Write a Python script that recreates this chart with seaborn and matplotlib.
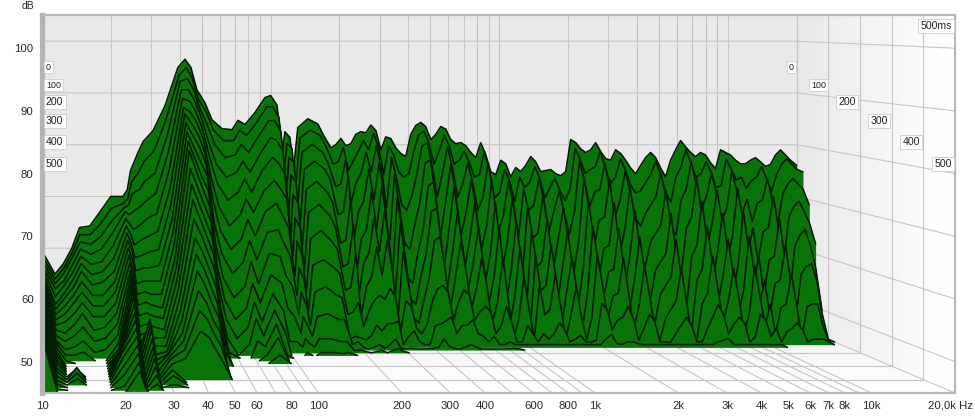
import numpy as np
import matplotlib
matplotlib.use("Agg")
import matplotlib.pyplot as plt
import seaborn as sns

# frequency grid (Hz) shared by all slices
freqs_hz = [10, 10.3, 11.4, 12.4, 13.5, 14.6, 16.2, 17.9, 20, 22.6, 23.6, 24.4, 26.3, 27.7, 30.6, 34.5, 39.3, 42.2, 44.8, 47.6,
            51.6, 55.4, 61.3, 67.8, 72, 77.3, 85.4, 94.5, 100, 106.5, 113, 115.5, 121.5, 126, 131.5, 145.5, 161, 170,
            183.5, 193, 203, 213.5, 224.5, 236, 248, 261, 274.5, 289, 303.5, 319, 335.5, 353, 371, 390, 410.5, 431.5, 454,
            477, 502, 528, 555, 584, 614, 645.5, 679, 714, 751, 790, 830.5, 873.5, 918.5, 966, 1016, 1068, 1123, 1181, 1242,
            1306, 1374, 1445, 1519, 1597, 1680, 1767, 1858, 1954, 2055, 2161, 2272, 2389, 2513, 2642, 2779, 2922, 3073, 3232,
            3398, 3574, 3758, 3952, 4156, 4370, 4596, 4833, 5082, 5344, 5620, 5910, 6215, 6535, 6873, 7227, 7600, 7992, 8405,
            8838, 9294, 9774, 10278, 10808, 11366, 11952, 12568, 13217, 13899, 14616, 15370, 16163, 16997, 17874, 18796, 20000]

# level (dB) of each waterfall slice. rows stop where the slice has sunk to the floor
slice_000 = [58, 58.5, 55, 57, 60, 64, 64.3, 67, 70, 70, 71.3, 75, 78.5, 80.6, 82.7, 87.5, 94.9, 96.5, 94.9, 90.6,
             88.1, 84.8, 83.1, 82.9, 84.7, 83.9, 86.2, 89.1, 89.5, 87.7, 79, 82.5, 81.4, 75.2, 83.3, 85, 84, 81.9,
             79.4, 80, 81.2, 79.8, 80.2, 82, 82.5, 82.3, 83.8, 82.7, 79, 81.5, 81.2, 79.4, 78.3, 77.7, 82, 83.7, 84.3, 83.5,
             81, 82, 83.5, 83, 81, 80.2, 80.4, 79.8, 78.5, 77.5, 80.4, 78, 74.8, 74.2, 77, 76.3, 73.8, 75.6, 74.8, 76, 77.7,
             76.7, 74.8, 75, 75.2, 74.4, 74, 74.8, 81, 80.4, 79.2, 78.5, 79, 80.4, 78.7, 77.3, 77, 79, 78.3, 77, 75.5, 74.4,
             76, 77.5, 78.5, 77.5, 75.5, 73.8, 77, 79, 80.8, 79.6, 78.5, 77.7, 78.5, 78, 76.5, 75.4, 79, 78.5, 78, 77, 76.3,
             76.3, 77, 77.5, 76.7, 75.8, 76.2, 78, 79, 78, 77, 76]
slice_020 = [57.8, 58, 54.5, 56.5, 59.5, 63, 63, 65, 68, 69, 70, 73, 75, 77, 79, 85, 93.5, 95, 93, 89,
             86.5, 83, 81, 81, 83, 82, 84.5, 87.5, 87.5, 85.5, 76, 80.5, 79.5, 72, 81.5, 83, 82, 80,
             76.5, 77, 79.7, 75.3, 77.2, 79, 81, 79.3, 82.3, 79.7, 74.5, 80, 78.2, 75, 74, 74.7, 79, 82.2, 82.8, 80.5, 76.5,
             79, 82, 80, 76.5, 77.2, 79, 76.8, 74, 74.5, 79, 75, 70, 71, 75.5, 73.3, 69.3, 74, 72, 73, 76, 73.7, 70, 72, 73.7,
             71.4, 69.5, 71.8, 79.5, 77.4, 74.7, 75.5, 76, 79, 75.7, 72.8, 74, 77.5, 75.3, 72.5, 71, 71.4, 73, 74.5, 77, 74.5,
             71, 69.3, 74, 76, 79.3, 76.6, 74, 74.7, 77, 75, 72, 72.4, 77.5, 75.5, 73.5, 74, 71.8, 73.3, 74, 76, 73.7, 71.3,
             74.5, 76.5, 77.5, 76.5, 75.5, 75]
slice_040 = [57.3, 57.5, 54, 56, 59, 62, 61.5, 63, 66, 68.5, 69, 71, 72, 73.5, 75, 82, 92.5, 93, 91, 87.5,
             84, 80.5, 78, 78.5, 80.5, 79, 82, 85, 85, 83, 72, 78, 77, 69, 79, 80.5, 79, 77,
             72.5, 73, 77.7, 69.3, 73.2, 75, 79, 75.3, 80.3, 75.7, 68.5, 78, 74, 69, 68, 70.7, 75, 80.2, 80.8, 76.5, 70.5,
             75, 80, 76, 70.5, 73, 77, 73, 68, 70.5, 77, 71, 64, 67, 73.5, 69, 63, 72, 68, 69, 74, 69.7, 64, 68, 71.7, 67.4,
             63.5, 67.8, 77.5, 73.4, 68.7, 71.5, 72, 77, 71.7, 66.8, 70, 75.5, 71.3, 66.5, 65, 67.4, 69, 70.5, 75, 70.5, 65,
             63.3, 70, 72, 77.3, 72.6, 68, 70.7, 75, 71, 66, 68.4, 75.5, 71.5, 67.5, 70, 65.8, 69.3, 70, 74, 69.7, 65.3,
             71, 73, 74, 73, 72, 69]
slice_060 = [57, 57, 53.5, 55, 58, 61, 60, 61, 64, 68, 67.5, 68, 69, 70, 71.5, 79, 91, 91, 89, 86,
             81, 77, 74.5, 75.5, 77.5, 75.5, 79, 82, 81.5, 79.5, 68, 75, 73.5, 65, 76, 77.5, 76, 74,
             67.5, 68, 74.7, 62.3, 68.2, 70, 76, 70.3, 77.3, 70.7, 61.5, 75, 69, 62, 61, 65.7, 70, 77.2, 77.8, 71.5, 63.5,
             70, 77, 71, 63.5, 68, 74, 68, 61, 65.5, 74, 66, 57, 62, 70.5, 64, 56, 69, 63, 64, 71, 64.7, 57, 63, 68.7, 62.4,
             56.5, 62.8, 74.5, 68.4, 61.7, 66.5, 67, 74, 66.7, 59.8, 65, 72.5, 66.3, 59.5, 58, 62.4, 64, 65.5, 72, 65.5, 58,
             56.3, 65, 67, 74.3, 67.6, 61, 65.7, 72, 66, 59, 63.4, 72.5, 66.5, 60.5, 65, 58.8, 64.3, 65, 71, 64.7, 58.3,
             67, 69, 70, 68, 66, 62]
slice_080 = [56.8, 56.7, 52.5, 54.5, 57, 60, 58.5, 59, 62, 67, 66, 65, 66, 67, 68, 76, 89.5, 89, 87, 84,
             78, 73.5, 70.5, 72, 74.5, 72, 76, 78.5, 77.5, 75.5, 64, 71.5, 70, 61, 72.5, 74, 72, 70,
             62.5, 63, 70.7, 56.3, 63.2, 65, 72, 65.3, 73.3, 65.7, 55.5, 71, 64, 56, 55, 60.7, 65, 73.2, 73.8, 66.5, 57.5,
             65, 73, 66, 57.5, 63, 70, 63, 55, 60.5, 70, 61, 51, 57, 66.5, 59, 50, 65, 58, 59, 67, 59.7, 51, 58, 64.7, 57.4,
             50.5, 57.8, 70.5, 63.4, 55.7, 61.5, 62, 70, 61.7, 53.8, 60, 68.5, 61.3, 53.5, 52, 57.4, 59, 60.5, 68, 60.5, 52,
             50.3, 60, 62, 70.3, 62.6, 55, 60.7, 68, 61, 53, 58.4, 68.5, 61.5, 54.5, 60, 52.8, 59.3, 60, 67, 59.7, 52.3,
             62, 64, 65, 62, 58, 50]
slice_100 = [56.5, 56.3, 51.5, 53.5, 56, 59, 57, 57.5, 60, 66, 64.5, 62.5, 63.5, 64, 65, 73, 88, 87, 85, 82,
             74.5, 69.5, 66, 68, 71, 68.5, 72.5, 74.5, 73, 71, 60.5, 67.5, 65.5, 57, 68.5, 70, 68, 66,
             58.5, 59, 66.2, 52.8, 59.2, 61, 67.5, 61.3, 68.8, 61.7, 52, 66.5, 60, 52.5, 51.5, 56.7, 61, 68.7, 69.3, 62.5, 54,
             61, 68.5, 62, 54, 59, 65.5, 59, 51.5, 56.5, 65.5, 57, 47.5, 53, 62, 55, 47, 60.5, 54, 55, 62.5, 55.7, 47.5, 54,
             60.2, 53.4, 47, 53.8, 66, 59.4, 52.2, 57.5, 58, 65.5, 57.7, 50.3, 56, 64, 57.3, 50, 48.5, 53.4, 55, 56.5, 63.5,
             56.5, 48.5, 46.8, 56, 58, 65.8, 58.6, 51.5, 56.7, 63.5, 57, 49.5, 54.4, 64, 57.5, 51, 56, 49.3, 55.3, 56, 62.5,
             55.7, 48.8, 57, 58.5, 59, 56, 50, 45]
slice_120 = [56.3, 56, 51, 53, 55, 58, 55.5, 56, 58, 65, 63, 60.5, 61, 61.5, 62, 70.5, 87, 85, 83, 80,
             71, 65.5, 62, 64, 67.5, 64.5, 69, 70.5, 68.5, 66, 57, 63.5, 61, 54, 64, 65.5, 63.5, 62,
             54.5, 55, 61.2, 49.8, 55.2, 57, 62.5, 57.3, 63.8, 57.7, 49, 61.5, 56, 49.5, 48.5, 52.7, 57, 63.7, 64.3, 58.5, 51,
             57, 63.5, 58, 51, 55, 60.5, 55, 48.5, 52.5, 60.5, 53, 45.5, 49, 57, 51, 45.5, 55.5, 50, 51, 57.5, 51.7, 45.5, 50,
             55.2, 49.4, 45.5, 49.8, 61, 55.4, 49.2, 53.5, 54, 60.5, 53.7, 47.3, 52, 59, 53.3, 47, 45.5, 49.4, 51, 52.5, 58.5,
             52.5, 45.5, 45.5, 52, 54, 60.8, 54.6, 48.5, 52.7, 58.5, 53, 46.5, 50.4, 59, 53.5, 48, 52, 46.3, 51.3, 52, 57.5,
             51.7, 45.8, 51.5, 52, 52, 48, 45.5]
slice_140 = [56, 55.7, 50.5, 52, 54, 56.5, 54, 54, 56.5, 64, 62, 58.5, 59, 59, 59.5, 68, 85.5, 83, 81, 78,
             67, 61.5, 58, 60, 64, 60.5, 65.5, 66, 63.5, 61, 54, 59, 56.5, 51, 59.5, 60.5, 59, 58,
             50.5, 51, 52.7, 48.3, 51.2, 53, 54, 53.3, 55.3, 53.7, 47.5, 53, 52, 48, 47, 48.7, 53, 55.2, 55.8, 54.5, 49.5,
             53, 55, 54, 49.5, 51, 52, 51, 47, 48.5, 52, 49, 45.5, 45.5, 48.5, 47, 45.5, 47, 46, 47, 49, 47.7, 45.5, 46, 46.7,
             45.5, 45.5, 45.8, 52.5, 51.4, 47.7, 49.5, 50, 52, 49.7, 45.8, 48, 50.5, 49.3, 45.5, 45.5, 45.4, 47, 48.5, 50, 48.5,
             45.5, 45.5, 48, 50, 52.3, 50.6, 47, 48.7, 50, 49, 45.5, 46.4, 50.5, 49.5, 46.5, 48, 45.5, 47.3, 48, 49, 47.7, 45.5,
             46, 46, 46, 45.5]
slice_160 = [55.8, 55.5, 50, 51, 53, 55, 52.5, 52.5, 55, 63, 60.5, 56.5, 57, 57, 57, 66, 84, 81, 78.5, 76,
             63.5, 57.5, 54, 56, 60.5, 56.5, 62, 61.5, 58, 56, 51, 55, 52.5, 49, 55, 56, 54.5, 54,
             46.5, 47, 46.7, 46.3, 47.2, 49, 48, 49.3, 49.3, 49.7, 45.5, 47, 48, 46, 45.5, 45.5, 49, 49.2, 49.8, 50.5, 47.5, 49,
             49, 50, 47.5, 47, 46, 47, 45.5, 45.5, 46, 45.5, 45.5, 45.5, 45.5, 45.5, 45.5, 45.5, 45.5, 45.5, 45.5, 45.5, 45.5,
             45.5, 45.5, 45.5, 45.5, 45.5, 46.5, 47.4, 45.7, 45.5, 46, 46, 45.7, 45.5, 45.5, 45.5, 45.5, 45.5, 45.5, 45.5, 45.5,
             45.5, 45.5, 45.5, 45.5, 45.5, 45.5, 46, 46.3, 46.6, 45.5, 45.5, 45.5, 45.5, 45.5, 45.5, 45.5, 45.5, 45.5, 45.5]
slice_180 = [55.6, 55.2, 49.5, 50, 51.5, 53.5, 51, 51, 53.5, 62, 59, 55, 55.5, 55, 55, 64, 82.5, 79, 76, 73.5,
             60, 54, 50.5, 52.5, 57, 53.5, 58.5, 57, 52.5, 51, 48, 51, 49, 47.5, 51, 51.5, 50.5, 50.5,
             46, 46.5, 45.5, 45.2, 45.5, 46, 45.3, 46, 47, 45.3, 45.2, 45.3, 45.2, 45.2, 45.2, 45.3, 45.5, 47, 45.7, 45.3, 45.2,
             45.5, 46, 45.5, 45.2, 45.2, 45.2, 45.2, 45.2, 45.2, 45.3, 45.2]
slice_200 = [55.4, 55, 49, 48.5, 50, 52, 49, 49.5, 52, 61, 57.5, 53.5, 54, 53.5, 53, 62, 81, 77, 74, 71,
             57, 51, 47.5, 49.5, 54, 50.5, 55.5, 52.5, 47, 47, 46, 47.5, 46.5, 46, 47.5, 47.5, 47, 47,
             45.3, 45.5, 45.2, 45, 45.2, 45.4, 45, 45.4, 45.8, 45.2]
slice_220 = [55.2, 54.8, 48.5, 47.5, 48.5, 50, 47.5, 48, 50.5, 60, 56, 52, 52.5, 52, 51.5, 60.5, 78, 74.5, 71.5, 68.5,
             54, 48, 45, 47, 51.5, 48.5, 53, 49, 45, 45, 45, 45.5, 45, 45, 45.5, 45.5, 45.3, 45.5]
slice_240 = [55, 54.6, 48, 46.5, 47, 48, 46, 46.5, 49, 59.5, 54.5, 50.5, 51, 50.5, 50, 59, 75.5, 72, 69, 66,
             52, 46, 45, 45, 48, 47, 51, 45.5]
slice_260 = [55, 54.4, 48, 46, 46, 46.5, 45, 45, 48, 59, 53, 49.5, 50, 49, 49, 57.5, 73, 69.5, 66.5, 63.5,
             50.5, 45, 45, 45, 45, 46, 49]
slice_280 = [54.8, 54.2, 47.8, 45.5, 45, 45, 45, 45, 47.5, 58.5, 52, 48.5, 51.5, 48, 48, 56, 70, 67, 64, 61,
             49, 45, 45, 45, 45, 45, 46.5]
slice_300 = [54.8, 54, 47.5, 45, 45, 45, 45, 45, 47.5, 58, 51, 48, 53, 47, 47.5, 54.5, 67, 64.5, 61.5, 58.5, 47.5]
slice_320 = [54.6, 53.8, 47.3, 45, 45, 45, 45, 45, 48, 57.5, 50.5, 47.5, 52.5, 46.5, 47.5, 53, 64.5, 62, 59, 56]
slice_340 = [54.6, 53.6, 47, 45, 45, 45, 45, 45, 48.5, 56.5, 50, 47, 52, 46, 48, 51.5, 62, 59.5, 56.5, 54]
slice_360 = [54.4, 53.4, 46.8, 45, 45, 45, 45, 45, 49, 55.5, 49.5, 46.5, 51, 45.5, 48, 50.5, 59, 57, 54, 52]
slice_380 = [54.4, 53.2, 46.5, 45, 46.3, 45, 45, 45, 49.5, 54.5, 49, 46, 50, 45, 48, 49.5, 56, 54.5, 52, 50]
slice_400 = [54.2, 53, 46.3, 45, 47, 45, 45, 45, 49.5, 53.5, 48.5, 45.5, 49.5, 45, 47.5, 48.5, 53, 52, 50, 48]
slice_420 = [54.2, 52.8, 46, 45, 46.5, 45, 45, 45, 49, 52.5, 48, 45, 49, 45, 47]
slice_440 = [54, 52.6, 45.7, 45, 46, 45, 45, 45, 48, 51.5, 47.5, 45, 48, 45, 46.5]
slice_460 = [54, 52.4, 45.5, 45, 45, 45, 45, 45, 47, 50.5, 47, 45, 47, 45, 45.5]
slice_480 = [54, 52.2, 45.2, 45, 45, 45, 45, 45, 45.7, 49.5, 46.5, 45, 46]
slice_500 = [54, 52, 45, 45, 45, 45, 45, 45, 45, 48.5, 46]

slices = [slice_000, slice_020, slice_040, slice_060, slice_080, slice_100, slice_120, slice_140, slice_160,
          slice_180, slice_200, slice_220, slice_240, slice_260, slice_280, slice_300, slice_320, slice_340,
          slice_360, slice_380, slice_400, slice_420, slice_440, slice_460, slice_480, slice_500]
slice_ms = [0, 20, 40, 60, 80, 100, 120, 140, 160, 180, 200, 220, 240, 260, 280, 300, 320, 340, 360, 380, 400, 420, 440,
            460, 480, 500]

x_ticks = [10, 20, 30, 40, 50, 60, 80, 100, 200, 300, 400, 600, 800, 1000, 2000, 3000, 4000, 5000, 6000, 7000, 8000, 10000]
x_labels = ["10", "20", "30", "40", "50", "60", "80", "100", "200", "300", "400", "600", "800", "1k", "2k", "3k", "4k",
            "5k", "6k", "7k", "8k", "10k"]
wall_freqs = [20, 30, 40, 50, 60, 70, 80, 90, 100, 200, 300, 400, 500, 600, 700, 800, 900, 1000, 2000, 3000, 4000, 5000,
              6000, 7000, 8000, 9000, 10000, 20000]
y_ticks = [50, 60, 70, 80, 90, 100]
time_marks = [0, 100, 200, 300, 400, 500]

FLOOR = 45
TOP = 105.3
F_MIN, F_MAX = 10, 20000
GRID = "#c6c6c6"
GREEN = "#087408"
EDGE = "#011a01"

sns.set_style("white")
plt.rcParams["font.family"] = ["Liberation Sans", "DejaVu Sans"]


def project(f, ms, db):
    # depth view: the 500 ms plane is the axes itself, the 0 ms plane sits smaller and further up
    t = np.asarray(ms, dtype=float) / 500
    s = (228.7 + 48 * t) / 276.7
    x = 10 * (np.asarray(f, dtype=float) / 10) ** s
    y = 45 + (67 * (1 - t) + (5.17 + 1.09 * t) * (np.asarray(db, dtype=float) - 45)) / 6.26
    return x, y


fig = plt.figure(figsize=(9.75, 4.16), dpi=100)
ax = fig.add_axes([42 / 975, 1 - 393 / 416, 913 / 975, 378 / 416])
ax.set_xscale("log")
ax.set_xlim(F_MIN, F_MAX)
ax.set_ylim(FLOOR, TOP)
ax.set_facecolor("#e9e9e9")

# shaded side wall and floor
depth = np.linspace(0, 500, 40)
shade = np.linspace(0.91, 1.0, 39).reshape(-1, 1)
wx0, wy0 = project(F_MAX, depth, FLOOR)
wx1, wy1 = project(F_MAX, depth, TOP + 3)
ax.pcolormesh(np.column_stack([wx0, wx1]), np.column_stack([wy0, wy1]), shade, cmap="gray", vmin=0, vmax=1, zorder=1)
fx0, fy0 = project(F_MIN, depth, FLOOR)
fx1, fy1 = project(F_MAX, depth, FLOOR)
ax.pcolormesh(np.column_stack([fx0, fx1]), np.column_stack([fy0, fy1]), np.linspace(0.94, 1.0, 39).reshape(-1, 1),
              cmap="gray", vmin=0, vmax=1, zorder=1)

# wall and floor grid
for f in wall_freqs:
    x, y = project([f, f], [0, 0], [FLOOR, TOP + 3])
    ax.plot(x, y, color=GRID, lw=0.8, zorder=2)
    x, y = project([f, f], [0, 500], [FLOOR, FLOOR])
    ax.plot(x, y, color=GRID, lw=0.8, zorder=2)
for db in y_ticks:
    x, y = project([F_MIN, F_MAX, F_MAX], [0, 0, 500], [db, db, db])
    ax.plot(x, y, color=GRID, lw=0.8, zorder=2)
for ms in time_marks:
    x, y = project([F_MIN, F_MAX, F_MAX], [ms, ms, ms], [FLOOR, FLOOR, TOP + 3])
    ax.plot(x, y, color=GRID, lw=0.8, zorder=2)

# slices back to front, only where they stand above the floor
freq_arr = np.array(freqs_hz)
for i, (ms, row) in enumerate(zip(slice_ms, slices)):
    level = np.full(len(freq_arr), float(FLOOR))
    level[:len(row)] = row
    above = np.where(level > FLOOR)[0]
    runs = np.split(above, np.where(np.diff(above) > 1)[0] + 1)
    for run in runs:
        a = max(run[0] - 1, 0)
        b = min(run[-1] + 1, len(freq_arr) - 1)
        x, y = project(freq_arr[a:b + 1], ms, level[a:b + 1])
        _, base = project(freq_arr[a:b + 1], ms, FLOOR)
        ax.fill_between(x, y, base, color=GREEN, lw=0, zorder=10 + 2 * i)
        sns.lineplot(x=x, y=y, ax=ax, color=EDGE, lw=1.15, estimator=None, sort=False, errorbar=None, legend=False,
                     zorder=11 + 2 * i)

ax.set_xlim(F_MIN, F_MAX)
ax.set_ylim(FLOOR, TOP)
ax.set_xlabel("")
ax.set_ylabel("")
ax.set_xticks(x_ticks)
ax.set_xticklabels(x_labels)
ax.minorticks_off()
ax.set_yticks(y_ticks)
ax.tick_params(length=0, labelsize=8.2, labelcolor="#2a2a2a", pad=6)
ax.annotate("20,0k Hz", xy=(1, 0), xycoords="axes fraction", xytext=(-3, -8.8), textcoords="offset points", ha="center",
            va="center", fontsize=8.2, color="#2a2a2a", annotation_clip=False)
ax.annotate("dB", xy=(0, 1), xycoords="axes fraction", xytext=(-10, 6.5), textcoords="offset points", ha="center",
            va="center", fontsize=7.5, color="#2a2a2a", annotation_clip=False)

for side in ["top", "right", "bottom"]:
    ax.spines[side].set_color("#b9b9b9")
    ax.spines[side].set_linewidth(1.6)
ax.spines["left"].set_color("#b4b4b4")
ax.spines["left"].set_linewidth(3.8)
for s in ax.spines.values():
    s.set_zorder(100)

# time labels on the left edge and along the side wall
label_y = [67, 85, 102, 121, 142, 164]
wall_right = [797, 829, 859, 891, 923, 955]
for ms, py, right in zip(time_marks, label_y, wall_right):
    size = 6.4 if ms < 200 else 7.6
    box = dict(boxstyle="square,pad=0.22", fc="white", ec="#d2d2d2", lw=0.7)
    ax.text(4 / 913, (393 - py) / 378, str(ms), transform=ax.transAxes, ha="left", va="center", fontsize=size,
            color="#222222", bbox=box, zorder=120)
    ax.text((right - 42 - 3) / 913, (393 - py) / 378, str(ms), transform=ax.transAxes, ha="right", va="center",
            fontsize=size, color="#222222", bbox=box, zorder=120)
ax.text((955 - 42 - 3) / 913, (393 - 26) / 378, "500ms", transform=ax.transAxes, ha="right", va="center", fontsize=7.6,
        color="#222222", bbox=dict(boxstyle="square,pad=0.22", fc="white", ec="#d2d2d2", lw=0.7), zorder=120)

fig.savefig("out.png", dpi=100)
